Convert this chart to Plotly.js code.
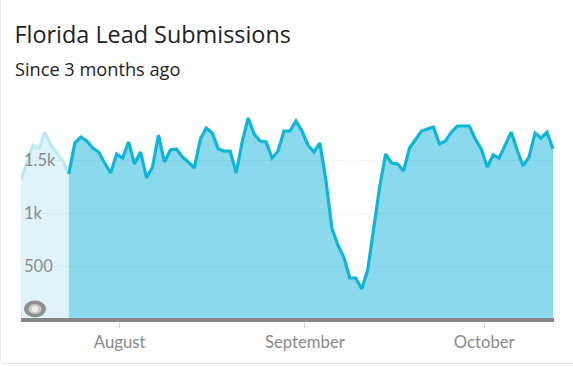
<!DOCTYPE html>
<html>
<head>
<meta charset="utf-8">
<script src="https://cdn.plot.ly/plotly-3.0.1.min.js"></script>
<style>
html,body{margin:0;padding:0;background:#fff;overflow:hidden;width:573px;height:367px}
#card{position:absolute;left:0;top:-6px;width:580px;height:370px;border:1px solid #e6e6e6;border-radius:4px;box-sizing:border-box}
#chart{position:absolute;left:0;top:0;width:573px;height:367px}
</style>
</head>
<body>
<div id="card"></div>
<div id="chart"></div>
<script>
const chartTitle = "Florida Lead Submissions";
const chartSubtitle = "Since 3 months ago";
const days = [
"2023-07-15","2023-07-16","2023-07-17","2023-07-18","2023-07-19","2023-07-20","2023-07-21","2023-07-22","2023-07-23","2023-07-24",
"2023-07-25","2023-07-26","2023-07-27","2023-07-28","2023-07-29","2023-07-30","2023-07-31","2023-08-01","2023-08-02","2023-08-03",
"2023-08-04","2023-08-05","2023-08-06","2023-08-07","2023-08-08","2023-08-09","2023-08-10","2023-08-11","2023-08-12","2023-08-13",
"2023-08-14","2023-08-15","2023-08-16","2023-08-17","2023-08-18","2023-08-19","2023-08-20","2023-08-21","2023-08-22","2023-08-23",
"2023-08-24","2023-08-25","2023-08-26","2023-08-27","2023-08-28","2023-08-29","2023-08-30","2023-08-31","2023-09-01","2023-09-02",
"2023-09-03","2023-09-04","2023-09-05","2023-09-06","2023-09-07","2023-09-08","2023-09-09","2023-09-10","2023-09-11","2023-09-12",
"2023-09-13","2023-09-14","2023-09-15","2023-09-16","2023-09-17","2023-09-18","2023-09-19","2023-09-20","2023-09-21","2023-09-22",
"2023-09-23","2023-09-24","2023-09-25","2023-09-26","2023-09-27","2023-09-28","2023-09-29","2023-09-30","2023-10-01","2023-10-02",
"2023-10-03","2023-10-04","2023-10-05","2023-10-06","2023-10-07","2023-10-08","2023-10-09","2023-10-10","2023-10-11","2023-10-12"];
const submissions = [
1313,1473,1642,1604,1763,1642,1566,1491,1369,1660,
1717,1679,1613,1576,1473,1379,1557,1520,1670,1463,
1576,1332,1435,1735,1482,1595,1604,1529,1482,1426,
1698,1801,1754,1604,1585,1585,1379,1670,1895,1745,
1679,1670,1520,1585,1773,1773,1867,1773,1642,1576,
1660,1313,863,704,591,394,394,291,469,844,
1248,1557,1473,1463,1398,1613,1698,1773,1792,1810,
1651,1679,1763,1820,1820,1820,1698,1604,1435,1548,
1520,1642,1763,1595,1445,1529,1754,1707,1763,1604];
const splitIndex = 8;
const yTickVals = [500, 1000, 1500];
const yTickText = ["500", "1k", "1.5k"];
const xTickVals = ["2023-07-31 12:00", "2023-08-31 12:00", "2023-09-30 12:00"];
const xTickText = ["August", "September", "October"];

const W = 573, H = 367, L = 21, R = 554, T = 100, B = 322, ZERO = 320, PX_PER_500 = 53.3;
const px = x => (x - L) / (R - L);
const py = y => (B - y) / (B - T);
const ring = (rx, ry, color) => ({
  type: "circle", xref: "paper", yref: "paper", layer: "above",
  x0: px(35 - rx), x1: px(35 + rx), y0: py(309 + ry), y1: py(309 - ry),
  fillcolor: color, line: {width: 0}
});

const traces = [
  {x: days.slice(0, splitIndex + 1), y: submissions.slice(0, splitIndex + 1), type: "scatter", mode: "lines",
   fill: "tozeroy", fillcolor: "rgba(0,170,210,0.13)", line: {color: "#b8eaf4", width: 3, shape: "linear"}, hoverinfo: "skip"},
  {x: days.slice(splitIndex), y: submissions.slice(splitIndex), type: "scatter", mode: "lines",
   fill: "tozeroy", fillcolor: "rgba(0,172,215,0.455)", line: {color: "#0fb5d7", width: 3.2, shape: "linear"}, hoverinfo: "skip"}
];

const layout = {
  width: W, height: H,
  margin: {l: L, r: W - R, t: T, b: H - B, pad: 0},
  paper_bgcolor: "rgba(0,0,0,0)", plot_bgcolor: "rgba(0,0,0,0)",
  showlegend: false,
  title: {text: chartTitle, x: 14.5 / W, xanchor: "left", xref: "container", y: 1 - 35 / H, yanchor: "middle",
          font: {family: "Open Sans", size: 23.4, color: "#222"}},
  annotations: [{text: chartSubtitle, xref: "paper", yref: "paper", x: px(12.5), y: py(69), xanchor: "left", yanchor: "middle",
                 showarrow: false, font: {family: "Open Sans", size: 18.2, color: "#222"}}],
  xaxis: {type: "date", range: ["2023-07-15", "2023-10-12 04:00"], tickmode: "array", tickvals: xTickVals, ticktext: xTickText,
          ticks: "outside", ticklen: 5, tickwidth: 1, tickcolor: "#cccccc", showgrid: false, zeroline: false, showline: false,
          tickfont: {family: "Lato", size: 16.7, color: "#8a8a8a"}},
  yaxis: {range: [-(B - ZERO) * 500 / PX_PER_500, (ZERO - T) * 500 / PX_PER_500], tickmode: "array", tickvals: yTickVals, ticktext: yTickText,
          ticklabelposition: "inside", ticks: "", showgrid: true, gridcolor: "#f5f5f5", gridwidth: 1, zeroline: false, showline: false,
          tickfont: {family: "Lato", size: 16.5, color: "#8a8a8a"}},
  shapes: [
    {type: "line", xref: "paper", yref: "y", x0: 0, x1: 1, y0: 0, y1: 0, layer: "above", line: {color: "#868686", width: 4}},
    ring(11, 8.5, "#8f8f8f"), ring(6.5, 5, "#c8c8c8"), ring(3.5, 3, "#ececec")
  ]
};
Plotly.newPlot("chart", traces, layout, {displayModeBar: false, staticPlot: true});
</script>
</body>
</html>
